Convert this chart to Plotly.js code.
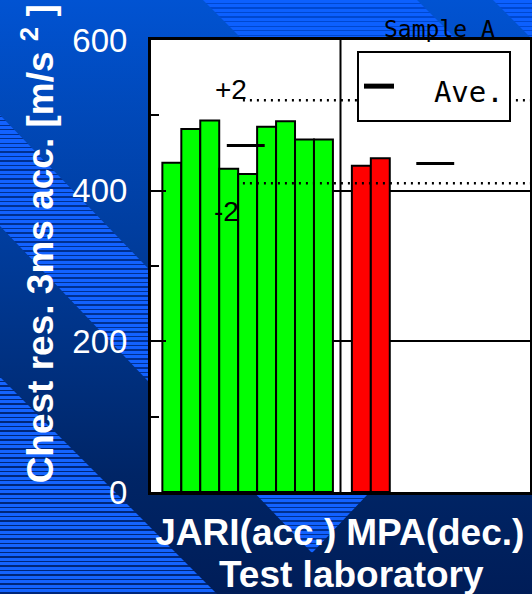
<!DOCTYPE html>
<html>
<head>
<meta charset="utf-8">
<script src="https://cdn.plot.ly/plotly-3.0.1.min.js"></script>
<style>
html, body { margin:0; padding:0; width:532px; height:594px; overflow:hidden; }
#bg { position:absolute; left:0; top:0; width:532px; height:594px;
  background: linear-gradient(to bottom, #0153d2 0%, #003d9e 40%, #002566 80%, #001d58 100%); }
.band { position:absolute; left:0; top:0; width:532px; height:594px; }
#b0 { clip-path: polygon(0 377px, 217px 594px, 0 594px);
  background: repeating-linear-gradient(to bottom, #1464ff 0px, #1464ff 3px, #00277a 3px, #00277a 4.5px); }
#b1 { clip-path: polygon(0 115px, 367px 495px, 312px 553px, 0 226px);
  background: repeating-linear-gradient(to bottom, #1262ff 0px, #1262ff 3px, #003090 3px, #003090 4.5px); }
#b2 { clip-path: polygon(203px 0, 417px 0, 532px 115px, 532px 329px);
  background: repeating-linear-gradient(to bottom, #0c60ff 0px, #0c60ff 3px, #0048d0 3px, #0048d0 4.5px); }
#b3 { clip-path: polygon(493px 0, 532px 0, 532px 39px);
  background: repeating-linear-gradient(to bottom, #0c60ff 0px, #0c60ff 3px, #0048d0 3px, #0048d0 4.5px); }
#chart { position:absolute; left:0; top:0; width:532px; height:594px; }
</style>
</head>
<body>
<div id="bg"></div>
<div class="band" id="b0"></div>
<div class="band" id="b1"></div>
<div class="band" id="b2"></div>
<div class="band" id="b3"></div>
<div id="chart"></div>
<script>
// ---- data ----
const categories = ['JARI(acc.)', 'MPA(dec.)'];
const jariValues = [437, 482, 493, 429, 422, 485, 492, 468, 468];
const mpaValues = [433, 443];
const aveValues = [460, 436];
const sigmaLabels = ['+2', '-2'];
const sigmaValues = [520, 410];
const yTickVals = [0, 200, 400, 600];
const sampleLabel = 'Sample A';
const aveName = 'Ave.';
const xTitle = 'Test laboratory';
const yTitle = 'Chest res. 3ms acc. [m/s <sup>2</sup> ]';

// ---- layout helpers (positions within each category slot) ----
const barW = 0.1;          // bar width in category units
const groupOffset = 0.06;  // gap from category start to first bar
function barX(catIndex, n) {
  const xs = [];
  for (let i = 0; i < n; i++) xs.push(catIndex + groupOffset + (i + 0.5) * barW);
  return xs;
}
const aveX = [], aveY = [];
aveValues.forEach((v, k) => {
  aveX.push(k + 0.4, k + 0.6, null);
  aveY.push(v, v, null);
});

const boldFont = (s) => ({family: 'Liberation Sans, Arial, sans-serif', size: s, color: 'white', weight: 700});

const traces = [
  {type: 'bar', x: barX(0, jariValues.length), y: jariValues, width: barW,
   marker: {color: '#00ff00', line: {color: 'black', width: 2}}, showlegend: false, hoverinfo: 'y'},
  {type: 'bar', x: barX(1, mpaValues.length), y: mpaValues, width: barW,
   marker: {color: '#ff0000', line: {color: 'black', width: 2}}, showlegend: false, hoverinfo: 'y'},
  {type: 'scatter', mode: 'lines', x: aveX, y: aveY, name: aveName, legendgroup: 'ave', showlegend: false,
   line: {color: 'black', width: 3}, connectgaps: false},
  // legend entry for the average (thicker key line as in the reference)
  {type: 'scatter', mode: 'lines', x: [null], y: [null], legendgroup: 'ave',
   name: "<span style='font-size:29px'>\u00a0\u00a0" + aveName + "</span>",
   line: {color: 'black', width: 5}, hoverinfo: 'skip'}
];
sigmaValues.forEach(v => {
  traces.push({type: 'scatter', mode: 'lines', x: [0.485, 2], y: [v, v], showlegend: false,
    line: {color: 'black', width: 2.5, dash: '2px,5px'}, hoverinfo: 'skip'});
});

const annotations = [
  {xref: 'x', yref: 'y', x: 0.422, y: 534, text: sigmaLabels[0], showarrow: false,
   font: {family: 'Liberation Sans, Arial, sans-serif', size: 28, color: 'black'}},
  {xref: 'x', yref: 'y', x: 0.398, y: 372, text: sigmaLabels[1], showarrow: false,
   font: {family: 'Liberation Sans, Arial, sans-serif', size: 28, color: 'black'}},
  {xref: 'paper', yref: 'paper', x: 0.76, y: 1, xanchor: 'center', yanchor: 'bottom', yshift: -4,
   text: sampleLabel, showarrow: false,
   font: {family: 'DejaVu Sans Mono, monospace', size: 23, color: 'black'}},
  // axis titles, placed like the reference
  {xref: 'paper', yref: 'paper', x: -0.298, y: 0.548, xanchor: 'center', yanchor: 'middle',
   textangle: -90, text: yTitle, showarrow: false, font: boldFont(37)},
  {xref: 'paper', yref: 'paper', x: 0.528, y: -0.183, xanchor: 'center', yanchor: 'middle',
   text: xTitle, showarrow: false, font: boldFont(37)}
];

const layout = {
  width: 532, height: 594,
  margin: {l: 151, r: 2, t: 40, b: 102, pad: 0},
  paper_bgcolor: 'rgba(0,0,0,0)',
  plot_bgcolor: 'white',
  barmode: 'overlay',
  xaxis: {
    range: [0, 2], tickmode: 'array', tickvals: [0.5, 1.5], ticktext: categories,
    ticks: '', showline: true, linecolor: 'black', linewidth: 3, mirror: true,
    showgrid: false, zeroline: false, tickfont: boldFont(37), ticklabelstandoff: 6,
    automargin: false, fixedrange: true
  },
  yaxis: {
    range: [0, 600], tickmode: 'array', tickvals: yTickVals,
    ticks: 'inside', ticklen: 15, tickwidth: 2, tickcolor: 'black',
    showline: true, linecolor: 'black', linewidth: 3, mirror: true,
    showgrid: true, gridcolor: 'black', gridwidth: 2, zeroline: false,
    tickfont: {family: 'Liberation Sans, Arial, sans-serif', size: 33, color: 'white'},
    ticklabelstandoff: 14,
    minor: {tickmode: 'linear', tick0: 0, dtick: 100, ticks: 'inside', ticklen: 8, tickwidth: 2, tickcolor: 'black', showgrid: false},
    automargin: false, fixedrange: true
  },
  showlegend: true,
  legend: {x: 0.5435, y: 0.9757, xanchor: 'left', yanchor: 'top', bgcolor: 'white',
    bordercolor: 'black', borderwidth: 2,
    font: {family: 'DejaVu Sans Mono, monospace', size: 41, color: 'black'}},
  annotations: annotations,
  shapes: [{type: 'line', xref: 'x', yref: 'paper', x0: 1, x1: 1, y0: 0, y1: 1,
    line: {color: 'black', width: 2}}]
};

Plotly.newPlot('chart', traces, layout, {displayModeBar: false, staticPlot: true});
</script>
</body>
</html>
